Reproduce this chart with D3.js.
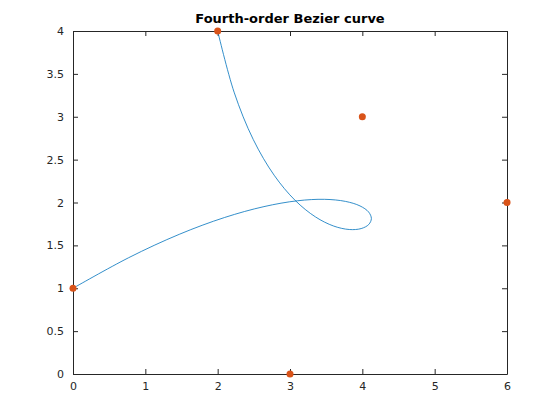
<!DOCTYPE html>
<html>
<head>
<meta charset="utf-8">
<script src="https://cdn.jsdelivr.net/npm/d3@7"></script>
<style>
  body { margin: 0; background: #fff; }
  text { font-family: "DejaVu Sans", sans-serif; }
</style>
</head>
<body>
<div id="plot"></div>
<script>
// control points
const ctrlX = [0, 4, 6, 3, 2];
const ctrlY = [1, 3, 2, 0, 4];

// curve points
const curveX = [0, 0.769, 1.469, 2.095, 2.640, 3.102, 3.477, 3.766, 3.968, 4.087, 4.125,
                4.089, 3.984, 3.820, 3.605, 3.352, 3.072, 2.781, 2.493, 2.227, 2];
const curveY = [1, 1.356, 1.629, 1.825, 1.952, 2.020, 2.037, 2.013, 1.960, 1.889, 1.813,
                1.744, 1.696, 1.685, 1.725, 1.832, 2.024, 2.318, 2.733, 3.287, 4];

const xTicks = [0, 1, 2, 3, 4, 5, 6];
const yTicks = [0, 0.5, 1, 1.5, 2, 2.5, 3, 3.5, 4];

const margin = {top: 31, right: 53, bottom: 46, left: 73},
  width = 560 - margin.left - margin.right,
  height = 420 - margin.top - margin.bottom;

const svg = d3.select("#plot")
  .append("svg")
    .attr("width", 560)
    .attr("height", 420)
  .append("g")
    .attr("transform", `translate(${margin.left}, ${margin.top})`);

const x = d3.scaleLinear().domain([0, 6]).range([0, width]);
const y = d3.scaleLinear().domain([0, 4]).range([height, 0]);
const fmt = d3.format("~g");

// axes (ticks inside, mirrored on top/right like matlab)
function styleAxis(g) {
  g.select(".domain").attr("stroke", "#262626");
  g.selectAll(".tick line").attr("stroke", "#262626");
  g.selectAll(".tick text").attr("fill", "#262626").style("font-size", "11px");
}
svg.append("g")
  .attr("transform", `translate(0, ${height})`)
  .call(d3.axisBottom(x).tickValues(xTicks).tickFormat(fmt).tickSize(-5).tickPadding(8).tickSizeOuter(0))
  .call(styleAxis);
svg.append("g")
  .call(d3.axisLeft(y).tickValues(yTicks).tickFormat(fmt).tickSize(-5).tickPadding(9).tickSizeOuter(0))
  .call(styleAxis);
svg.append("g")
  .call(d3.axisTop(x).tickValues(xTicks).tickSize(-5).tickFormat("").tickSizeOuter(0))
  .call(styleAxis);
svg.append("g")
  .attr("transform", `translate(${width}, 0)`)
  .call(d3.axisRight(y).tickValues(yTicks).tickSize(-5).tickFormat("").tickSizeOuter(0))
  .call(styleAxis);

// title
svg.append("text")
  .attr("x", width / 2)
  .attr("y", -8)
  .attr("text-anchor", "middle")
  .style("font-size", "13px")
  .style("font-weight", "bold")
  .attr("fill", "#000")
  .text("Fourth-order Bezier curve");

// curve
const pts = curveX.map((d, i) => [d, curveY[i]]);
svg.append("path")
  .datum(pts)
  .attr("fill", "none")
  .attr("stroke", "#0072BD")
  .attr("stroke-width", 0.8)
  .attr("d", d3.line()
    .x(d => x(d[0]))
    .y(d => y(d[1]))
    .curve(d3.curveCatmullRom.alpha(0.5)));

// control points
svg.append("g")
  .selectAll("circle")
  .data(ctrlX.map((d, i) => [d, ctrlY[i]]))
  .join("circle")
    .attr("cx", d => x(d[0]))
    .attr("cy", d => y(d[1]))
    .attr("r", 3.5)
    .style("fill", "#D95319");
</script>
</body>
</html>
